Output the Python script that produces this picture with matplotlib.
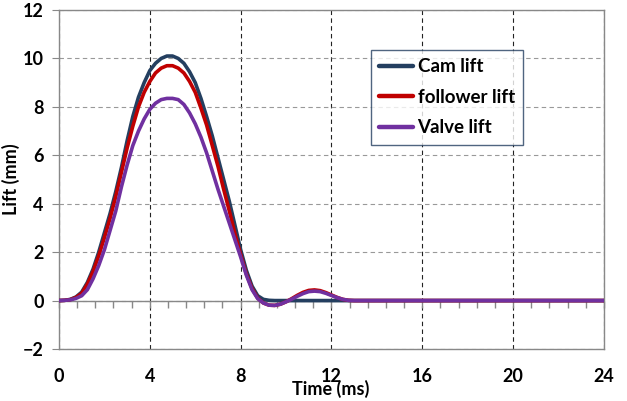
import numpy as np
import matplotlib.pyplot as plt
from matplotlib.ticker import MultipleLocator

# time (ms)
time = [0, 0.25, 0.5, 0.75, 1, 1.25, 1.5, 1.75, 2, 2.25, 2.5, 2.75, 3, 3.25,
        3.5, 3.75, 4, 4.25, 4.5, 4.75, 5, 5.25, 5.5, 5.75, 6, 6.25, 6.5, 6.75,
        7, 7.25, 7.5, 7.75, 8, 8.25, 8.5, 8.75, 9, 9.25, 9.5, 9.75, 10, 10.25,
        10.5, 10.75, 11, 11.25, 11.5, 11.75, 12, 12.25, 12.5, 12.75, 13, 24]
cam_lift = [0, 0.01, 0.05, 0.15, 0.35, 0.75, 1.3, 2.0, 2.8, 3.6, 4.5, 5.5,
            6.6, 7.6, 8.4, 9.0, 9.5, 9.8, 10.0, 10.1, 10.1, 10.0, 9.8, 9.45,
            9.0, 8.35, 7.6, 6.8, 5.9, 5.0, 4.1, 3.1, 2.1, 1.25, 0.6, 0.2, 0.05,
            0.01, 0, 0, 0, 0, 0, 0, 0, 0, 0, 0, 0, 0, 0, 0, 0, 0]
follower_lift = [0, 0.01, 0.04, 0.13, 0.3, 0.68, 1.2, 1.85, 2.6, 3.4, 4.3,
                 5.3, 6.3, 7.2, 8.0, 8.6, 9.05, 9.4, 9.6, 9.7, 9.7, 9.6, 9.4,
                 9.05, 8.6, 7.95, 7.25, 6.4, 5.55, 4.6, 3.7, 2.75, 1.9, 1.1,
                 0.5, 0.1, -0.1, -0.19, -0.2, -0.15, -0.05, 0.08, 0.22, 0.34,
                 0.42, 0.44, 0.41, 0.33, 0.23, 0.13, 0.05, 0.01, 0, 0]
valve_lift = [0, 0.01, 0.03, 0.09, 0.2, 0.45, 0.9, 1.45, 2.1, 2.9, 3.7, 4.7,
              5.6, 6.4, 7.0, 7.5, 7.9, 8.15, 8.3, 8.35, 8.35, 8.3, 8.1, 7.75,
              7.3, 6.75, 6.1, 5.35, 4.6, 3.9, 3.2, 2.5, 1.8, 1.05, 0.45, 0.08,
              -0.1, -0.19, -0.2, -0.15, -0.05, 0.06, 0.18, 0.29, 0.37, 0.39,
              0.37, 0.3, 0.21, 0.12, 0.05, 0.01, 0, 0]

names = ["Cam lift", "follower lift", "Valve lift"]
colors = ["#243F60", "#C00000", "#7030A0"]

plt.rcParams['font.family'] = ['Lato', 'DejaVu Sans']

fig = plt.figure(figsize=(6.27, 4.01), dpi=100)
ax = fig.add_axes([0.0941, 0.1297, 0.8692, 0.8453])

for y, name, c in zip([cam_lift, follower_lift, valve_lift], names, colors):
    ax.plot(time, y, color=c, lw=2.6, label=name, solid_capstyle='round',
            solid_joinstyle='round', zorder=3)

ax.set_xlim(0, 24)
ax.set_ylim(-2, 12)
ax.xaxis.set_major_locator(MultipleLocator(4))
ax.yaxis.set_major_locator(MultipleLocator(2))

ax.grid(axis='y', color='#999999', ls=(0, (4, 3)), lw=0.8)
ax.grid(axis='x', color='#222222', ls=(0, (4, 3)), lw=0.8)
ax.axhline(0, color='#888888', lw=1.0, zorder=2)

# small tick marks on the zero axis line (Excel-style crossing axis)
zero_ticks = np.arange(0, 24.01, 0.8)
ax.plot(zero_ticks, np.zeros_like(zero_ticks), ls='none', marker=3,
        markersize=5, markeredgewidth=1.0, color='#888888', zorder=2,
        clip_on=False)

for s in ax.spines.values():
    s.set_color('#888888')
    s.set_linewidth(1.0)

ax.tick_params(axis='x', length=0, pad=14, labelsize=13)
ax.tick_params(axis='y', length=5, color='#888888', direction='out',
               labelsize=13, pad=6)
for lbl in ax.get_xticklabels() + ax.get_yticklabels():
    lbl.set_fontweight('bold')

ax.set_ylabel("Lift (mm)", fontsize=13, fontweight='bold', labelpad=2)
fig.text(0.527, 0.03, "Time (ms)", fontsize=13, fontweight='bold',
         ha='center', va='center')

leg = ax.legend(loc='upper left', bbox_to_anchor=(0.572, 0.882),
                prop={'weight': 'bold', 'size': 13.5}, frameon=True,
                fancybox=False, borderaxespad=0, handlelength=1.8,
                handletextpad=0.25, borderpad=0.45, labelspacing=0.72)
leg.get_frame().set_edgecolor('#243F60')
leg.get_frame().set_linewidth(1.0)
for line in leg.get_lines():
    line.set_linewidth(3.2)

fig.savefig("out.png", dpi=100)
